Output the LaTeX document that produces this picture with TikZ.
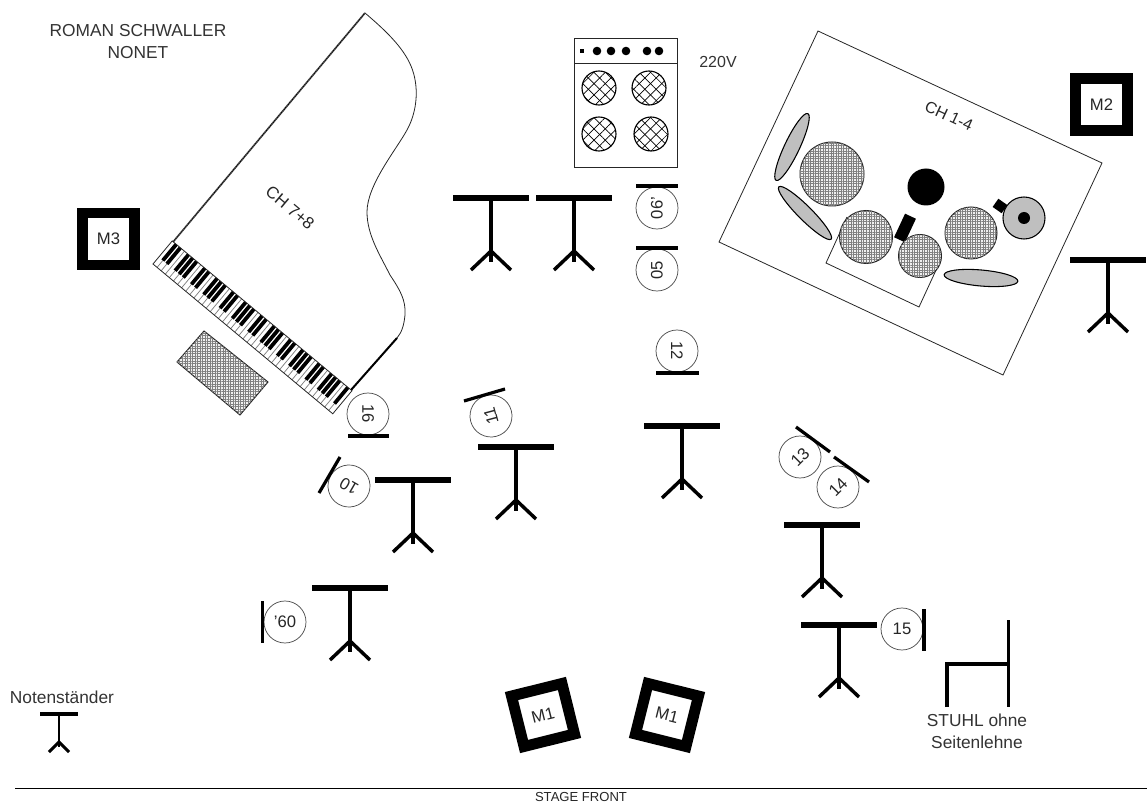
\documentclass[tikz,border=0pt]{standalone}
\usepackage{fontspec}
\setmainfont{Liberation Sans}
\usetikzlibrary{patterns.meta,calc}
\tikzset{
  thin line/.style={draw=black!85,line width=.6pt},
  label big/.style={inner sep=0pt,font=\fontsize{13}{15.5}\selectfont,text=black!80,align=center},
  seat/.style={circle,draw=black!70,line width=.55pt,minimum size=31.5pt,inner sep=0pt,fill=white,font=\fontsize{12.5}{14}\selectfont,text=black!85},
  seatbar/.style={draw=black,line width=2.4pt},
  meshfill/.style={draw=black!85,line width=.75pt,preaction={fill=gray!12},
    preaction={pattern={Lines[angle=0,distance=1.9pt,line width=.55pt]},pattern color=gray},
    postaction={pattern={Lines[angle=90,distance=1.9pt,line width=.55pt]},pattern color=gray}},
  hatchfill/.style={draw=black,line width=.85pt,
    preaction={pattern={Lines[angle=45,distance=6pt,line width=.5pt]},pattern color=black},
    postaction={pattern={Lines[angle=-45,distance=6pt,line width=.5pt]},pattern color=black}},
  cymbal/.style={draw=black,line width=.8pt,fill=gray!50},
  musicstand/.pic={
    \fill[black] (-38,-3.2) rectangle (38,3.2);
    \draw[black,line width=2.6pt] (0,0) -- (0,64);
    \draw[black,line width=2.6pt] (-20,72) -- (0,53) -- (20,72);
  },
  smallstand/.pic={
    \fill[black] (-19,-1.6) rectangle (19,1.6);
    \draw[black,line width=2.2pt] (0,0) -- (0,33);
    \draw[black,line width=2.2pt] (-10,38) -- (0,28) -- (10,38);
  },
  monitorbox/.style={draw=black,line width=8.2pt,minimum size=39pt,inner sep=0pt,fill=white,font=\fontsize{12.5}{14}\selectfont,text=black!85},
}
\begin{document}
\begin{tikzpicture}[x=.75pt,y=-.75pt]
\useasboundingbox (0,0) rectangle (1147,802);
% title
\node[label big] (title) at (138,42) {ROMAN SCHWALLER\\[1pt]NONET};
% piano
\fill[white] (173,242) -- (365,13) -- (397,338) -- (351,390) -- cycle;
\draw[black!70,line width=1.3pt] (173,242) -- (365,13);
\draw[black,line width=.6pt,densely dotted] (173,242) -- (365,13);
\draw[thin line] (365,13) .. controls (385,30) and (403,47) .. (411,66)
  .. controls (419,85) and (418,110) .. (407,130)
  .. controls (396,150) and (367,185) .. (367,212)
  .. controls (367,235) and (380,255) .. (390,275)
  .. controls (400,290) and (406,300) .. (405,315)
  .. controls (404,325) and (402,332) .. (397,338);
\draw[black,line width=1.5pt] (397,338) -- (351,390);
\begin{scope}[shift={(153,264)},rotate=-39.8]
  \fill[white] (0,0) rectangle (234,-30);
  \foreach \i in {1,...,43} \draw[black!50,line width=.55pt] ({\i*5.32},0) -- ({\i*5.32},-30);
  \foreach \o in {0,...,5} \foreach \p in {1,2,4,5,6}
    \fill[black] ({(\o*7+\p)*5.32-1.9},-30) rectangle ({(\o*7+\p)*5.32+1.9},-9);
  \fill[black] ({43*5.32-1.9},-30) rectangle ({43*5.32+1.9},-9);
  \draw[thin line] (0,0) rectangle (234,-30);
\end{scope}
\node[inner sep=0pt,rotate=-40,font=\fontsize{12.6}{15}\selectfont,text=black!85] (ch78) at (290,208) {CH 7+8};
% bench
\path[meshfill] (204,331) -- (268,382) -- (240,415) -- (177,362) -- cycle;
% amp
\draw[thin line] (574,38) rectangle (677,167);
\draw[thin line] (574,63) -- (677,63);
\fill[black] (580,49) rectangle (584,53);
\foreach \x in {597,611,626,647,659} \fill[black] (\x,51) circle[radius=4.3];
\foreach \x/\y in {599/88,649/88,599/134,651/134} \path[hatchfill] (\x,\y) circle[radius=17];
\node[inner sep=0pt,font=\fontsize{12}{14}\selectfont,text=black!80] (v220) at (718,62) {220V};
% drums
\draw[thin line] (818,31) -- (1102,163) -- (1003,375) -- (719,242) -- cycle;
\draw[thin line] (847,217) -- (826,263) -- (919,307) -- (937,268);
\node[inner sep=0pt,rotate=-25,font=\fontsize{12}{14}\selectfont,text=black!85] (ch14) at (949,116) {CH 1-4};
\path[cymbal] (792,147) ellipse[x radius=37,y radius=7.5,rotate=64.6];
\path[cymbal] (805,213) ellipse[x radius=37,y radius=7,rotate=-45];
\path[cymbal] (981,278) ellipse[x radius=37,y radius=8,rotate=-5];
\path[meshfill] (832,174) circle[radius=32];
\path[meshfill] (866,237) circle[radius=26.5];
\path[meshfill] (971,233) circle[radius=26];
\fill[black,rotate around={65:(905,228)}] (892,222) rectangle (918,234);
\path[meshfill] (920,256) circle[radius=21.5];
\fill[black] (926,187) circle[radius=18.5];
\fill[black,rotate around={-35:(1000,206)}] (994.5,201) rectangle (1005.5,211);
\path[cymbal] (1024,218) circle[radius=21];
\fill[black] (1024,218) circle[radius=6];
% stands
\pic at (491,198) {musicstand};
\pic at (574,198) {musicstand};
\pic at (682,426) {musicstand};
\pic at (516,447) {musicstand};
\pic at (413,480) {musicstand};
\pic at (350,588) {musicstand};
\pic at (1108,260) {musicstand};
\pic at (822,525) {musicstand};
\pic at (839,625) {musicstand};
\pic at (59,714) {smallstand};
% seats
\node[seat,rotate=90] (s06) at (657,208) {06'};
\draw[seatbar] (636,186) -- (678,186);
\node[seat,rotate=90] (s05) at (657,270) {05};
\draw[seatbar] (636,248) -- (678,248);
\node[seat,rotate=-90] (s12) at (677,351) {12};
\draw[seatbar] (656,373) -- (699,373);
\node[seat,rotate=-90] (s16) at (368,414) {16};
\draw[seatbar] (348,436) -- (389,436);
\node[seat,rotate=105] (s11) at (491,416) {11};
\draw[seatbar] (464,401) -- (505,389);
\node[seat,rotate=150] (s10) at (349,486) {10};
\draw[seatbar] (340,457) -- (319,493);
\node[seat] (s60) at (285,622) {'60};
\draw[seatbar] (262.5,601) -- (262.5,643);
\node[seat,rotate=45] (s13) at (800,457) {13};
\draw[seatbar] (796,427) -- (830,452);
\node[seat,rotate=45] (s14) at (838,487) {14};
\draw[seatbar] (834,457) -- (869,482);
\node[seat] (s15) at (902,629) {15};
\draw[seatbar] (924,609) -- (924,651);
% chair
\draw[black,line width=2.6pt] (1008.5,620) -- (1008.5,707);
\draw[black,line width=2.6pt] (947,707) -- (947,664) -- (1008.5,664);
\node[label big] (chairtext) at (977,731) {STUHL ohne\\[1pt]Seitenlehne};
% monitors
\node[monitorbox,rotate=14] (m1a) at (543,715) {M1};
\node[monitorbox,rotate=-14] (m1b) at (667,715) {M1};
\node[monitorbox] (m2) at (1101.5,104.5) {M2};
\node[monitorbox] (m3) at (108.5,239) {M3};
% legend and front
\node[label big] (legend) at (62,697) {Notenständer};
\coordinate (fl) at (15,788);
\coordinate (fr) at (1147,788);
\draw[black,line width=.75pt] (fl) -- (fr);
\node[inner sep=0pt,font=\fontsize{9.8}{11}\selectfont,text=black!85] (front) at (581,796.5) {STAGE FRONT};
\end{tikzpicture}
\end{document}
